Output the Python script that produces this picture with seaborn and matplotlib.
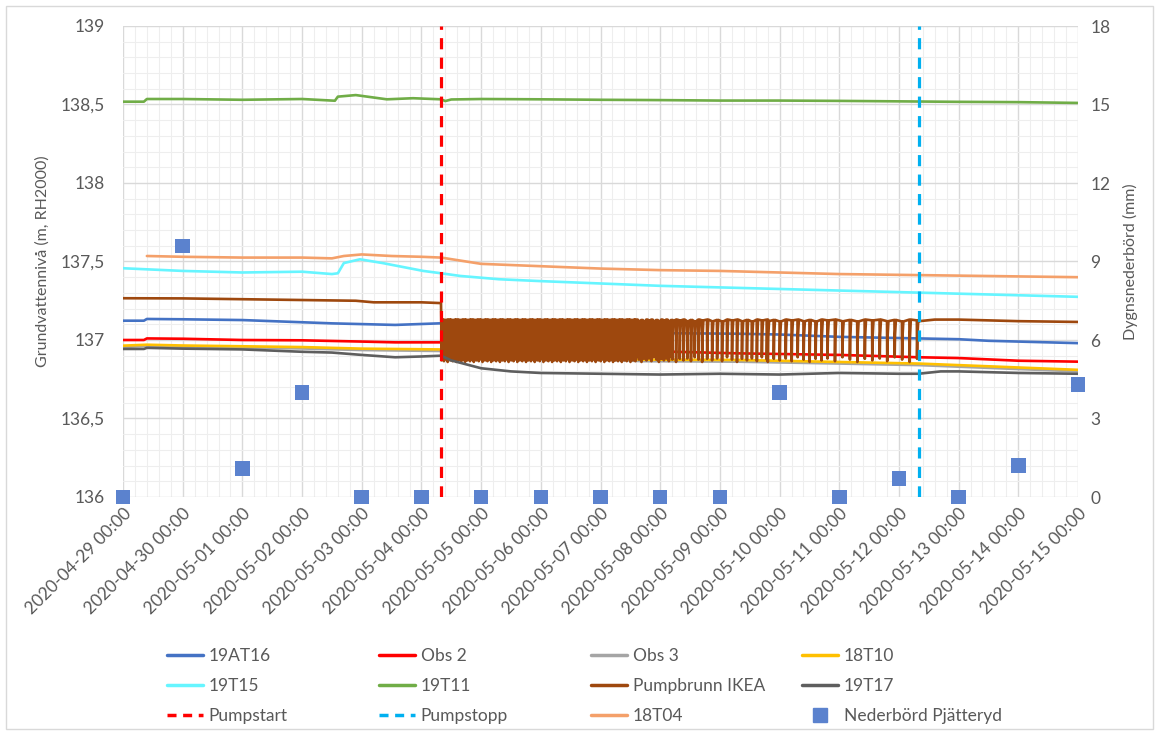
import matplotlib
matplotlib.use("Agg")
import matplotlib.pyplot as plt
import matplotlib.dates as mdates
import matplotlib.ticker as mticker
from matplotlib.lines import Line2D
from matplotlib.patches import Rectangle
import numpy as np
import pandas as pd
import seaborn as sns

START = pd.Timestamp("2020-04-29 00:00")

# day offsets from START and read-off levels (m, RH2000)
t_19at16 = [0, 0.35, 0.4, 1, 2, 3, 3.5, 4.56, 5.3, 6.5, 8.5, 10.3, 11, 12, 13.33, 14, 14.5, 15, 16]
v_19at16 = [137.123, 137.123, 137.134, 137.132, 137.127, 137.113, 137.106, 137.096, 137.106,
            137.08, 137.045, 137.04, 137.035, 137.02, 137.01, 137.005, 136.995, 136.99, 136.98]

t_obs2 = [0, 0.35, 0.4, 1, 2, 3, 4, 4.56, 5.3, 6.5, 8.7, 10.3, 12, 13.33, 14, 15, 16]
v_obs2 = [137.0, 137.0, 137.01, 137.008, 137.0, 136.998, 136.99, 136.985, 136.985,
          136.96, 136.93, 136.915, 136.905, 136.89, 136.885, 136.868, 136.862]

t_obs3 = [0, 0.4, 1, 2, 3, 4, 5.3, 6.5, 8.7, 10.3, 12, 13.33, 14, 15, 16]
v_obs3 = [136.955, 136.962, 136.957, 136.952, 136.946, 136.936, 136.93, 136.9, 136.865,
          136.862, 136.85, 136.84, 136.83, 136.815, 136.80]

t_18t10 = [0, 0.4, 1, 2, 3, 4, 5.3, 6.5, 8.7, 10.3, 12, 13.33, 14, 15, 16]
v_18t10 = [136.964, 136.97, 136.965, 136.96, 136.955, 136.945, 136.94, 136.91, 136.875,
           136.873, 136.86, 136.85, 136.84, 136.825, 136.81]

t_19t15 = [0, 1, 2, 3, 3.5, 3.6, 3.7, 3.97, 4.35, 5.03, 5.33, 5.65, 6.3, 7, 8, 9, 10, 11, 12, 13, 14, 15, 16]
v_19t15 = [137.457, 137.44, 137.43, 137.435, 137.42, 137.425, 137.49, 137.514, 137.49, 137.44,
           137.425, 137.408, 137.387, 137.375, 137.36, 137.345, 137.335, 137.325, 137.315,
           137.305, 137.295, 137.285, 137.275]

t_19t11 = [0, 0.35, 0.4, 1, 2, 3, 3.55, 3.6, 3.9, 4.42, 4.86, 5.33, 5.4, 5.5, 6, 7, 8, 9, 10, 11, 12, 13, 14, 15, 16]
v_19t11 = [138.518, 138.518, 138.535, 138.535, 138.53, 138.535, 138.524, 138.55, 138.56,
           138.533, 138.54, 138.533, 138.522, 138.532, 138.535, 138.533, 138.53, 138.528,
           138.525, 138.525, 138.523, 138.52, 138.517, 138.515, 138.51]

t_19t17 = [0, 0.35, 0.4, 1, 2, 3, 3.5, 4, 4.56, 5, 5.33, 5.5, 6, 6.5, 7, 8, 9, 10, 11, 12, 13, 13.33, 13.7, 14, 15, 16]
v_19t17 = [136.943, 136.943, 136.95, 136.945, 136.94, 136.925, 136.92, 136.905, 136.89, 136.895,
           136.9, 136.87, 136.82, 136.8, 136.79, 136.785, 136.78, 136.785, 136.78, 136.79,
           136.785, 136.785, 136.8, 136.8, 136.79, 136.785]

t_18t04 = [0.4, 1, 2, 3, 3.5, 3.7, 4, 4.5, 5, 5.33, 6, 7, 8, 9, 10, 11, 12, 13, 14, 15, 16]
v_18t04 = [137.535, 137.53, 137.525, 137.525, 137.52, 137.535, 137.545, 137.535, 137.53, 137.525,
           137.485, 137.47, 137.455, 137.445, 137.44, 137.43, 137.42, 137.415, 137.41, 137.405, 137.40]

# pump well: before start, cycling phase, after stop
t_pump_pre = [0, 1, 2, 3, 3.9, 4.2, 5.0, 5.328]
v_pump_pre = [137.266, 137.265, 137.26, 137.255, 137.25, 137.24, 137.24, 137.235]
pump_seg_start = [5.332, 8.6, 9.2, 9.7, 10.8, 11.8]
pump_seg_period_h = [0.5, 1.0, 1.5, 2.0, 2.4, 3.0]
pump_highs = [137.125, 137.13, 137.12, 137.128, 137.118, 137.13]
pump_lows = [136.87, 136.882, 136.865, 136.89, 136.875, 136.86, 136.88]
t_pump_post = [13.34, 13.6, 14, 15, 16]
v_pump_post = [137.12, 137.13, 137.13, 137.12, 137.115]

# start/stop of pumping (days) and daily precipitation
pump_start_day = 5.33
pump_stop_day = 13.33
precip_mm = [0, 9.6, 1.1, 4.0, 0, 0, 0, 0, 0, 0, 0, 4.0, 0, 0.7, 0, 1.2, 4.3]

names = ["19AT16", "Obs 2", "Obs 3", "18T10", "19T15", "19T11", "Pumpbrunn IKEA", "19T17", "18T04"]
colors = {
    "19AT16": "#4472C4", "Obs 2": "#FF0000", "Obs 3": "#A5A5A5", "18T10": "#FFC000",
    "19T15": "#66F5FF", "19T11": "#70AD47", "Pumpbrunn IKEA": "#9E480E", "19T17": "#5E5E5E",
    "18T04": "#F4A06A",
}


def pump_cycles():
    t, v = [], []
    bounds = pump_seg_start + [pump_stop_day]
    k = 0
    for i, period_h in enumerate(pump_seg_period_h):
        p = period_h / 24.0
        t0 = bounds[i]
        while t0 < bounds[i + 1] - 1e-9:
            hi = pump_highs[k % len(pump_highs)]
            lo = pump_lows[k % len(pump_lows)]
            drop = 0.08 / 24
            rec = min(0.5 / 24, 0.75 * p)
            t += [t0, t0 + drop, t0 + drop + 0.3 * rec, t0 + drop + rec]
            v += [hi, lo, lo + 0.6 * (hi - lo), hi]
            t0 += p
            k += 1
    return t, v


series = {
    "19AT16": (t_19at16, v_19at16), "Obs 2": (t_obs2, v_obs2), "Obs 3": (t_obs3, v_obs3),
    "18T10": (t_18t10, v_18t10), "19T15": (t_19t15, v_19t15), "19T11": (t_19t11, v_19t11),
    "19T17": (t_19t17, v_19t17), "18T04": (t_18t04, v_18t04),
}
ct, cv = pump_cycles()
series["Pumpbrunn IKEA"] = (t_pump_pre + ct + t_pump_post, v_pump_pre + cv + v_pump_post)

frames = []
for name in names:
    tt, vv = series[name]
    frames.append(pd.DataFrame({"time": START + pd.to_timedelta(tt, unit="D"), "level": vv, "serie": name}))
df = pd.concat(frames, ignore_index=True)

sns.set_style("white")
plt.rcParams["font.family"] = ["Lato", "DejaVu Sans"]
TXT = "#595959"

fig = plt.figure(figsize=(11.59, 7.35), dpi=100)
ax = fig.add_axes([123 / 1159, 1 - 497 / 735, (1078 - 123) / 1159, (497 - 26) / 735])

sns.lineplot(data=df, x="time", y="level", hue="serie", hue_order=names, palette=colors,
             estimator=None, sort=False, legend=False, linewidth=1.9, ax=ax)

ax.axvline(START + pd.Timedelta(days=pump_start_day), color="#FF0000", lw=2.3, ls=(0, (3.5, 2.6)))
ax.axvline(START + pd.Timedelta(days=pump_stop_day), color="#00B0F0", lw=2.3, ls=(0, (3.5, 2.6)))

ax.set_xlim(START, START + pd.Timedelta(days=16))
ax.set_ylim(136, 139)
ax.xaxis.set_major_locator(mdates.DayLocator())
ax.xaxis.set_major_formatter(mdates.DateFormatter("%Y-%m-%d %H:%M"))
ax.xaxis.set_minor_locator(mticker.MultipleLocator(0.2))
ax.yaxis.set_major_locator(mticker.MultipleLocator(0.5))
ax.yaxis.set_minor_locator(mticker.MultipleLocator(0.1))
ax.yaxis.set_major_formatter(mticker.FuncFormatter(lambda v, p: f"{v:g}".replace(".", ",")))
ax.grid(which="major", color="#D9D9D9", lw=1.0)
ax.grid(which="minor", color="#EEEEEE", lw=0.8)
ax.set_axisbelow(True)
for s in ax.spines.values():
    s.set_visible(False)
ax.tick_params(which="both", length=0, colors=TXT, labelsize=12.5)
ax.tick_params(axis="y", pad=13)
ax.tick_params(axis="x", pad=6)
for lab in ax.get_xticklabels():
    lab.set_rotation(45)
    lab.set_ha("right")
    lab.set_rotation_mode("anchor")
ax.set_xlabel("")
ax.set_ylabel("Grundvattennivå (m, RH2000)", color=TXT, fontsize=11.5, labelpad=8)

ax2 = ax.twinx()
precip_days = START + pd.to_timedelta(np.arange(len(precip_mm)), unit="D")
sns.scatterplot(x=precip_days, y=precip_mm, marker="s", s=110, color="#5B82CE",
                edgecolor="none", clip_on=False, zorder=5, ax=ax2)
ax2.set_ylim(0, 18)
ax2.yaxis.set_major_locator(mticker.MultipleLocator(3))
ax2.grid(False)
for s in ax2.spines.values():
    s.set_visible(False)
ax2.tick_params(length=0, colors=TXT, labelsize=12.5, pad=9)
ax2.set_ylabel("Dygnsnederbörd (mm)", color=TXT, fontsize=11.5, labelpad=9)
ax.set_xlim(START, START + pd.Timedelta(days=16))


def line_handle(c, dashed=False):
    if dashed:
        return Line2D([], [], color=c, lw=2.5, ls=(0, (2.6, 1.9)))
    return Line2D([], [], color=c, lw=2.5)


columns = [
    [("19AT16", line_handle(colors["19AT16"])), ("19T15", line_handle(colors["19T15"])),
     ("Pumpstart", line_handle("#FF0000", True))],
    [("Obs 2", line_handle(colors["Obs 2"])), ("19T11", line_handle(colors["19T11"])),
     ("Pumpstopp", line_handle("#00B0F0", True))],
    [("Obs 3", line_handle(colors["Obs 3"])), ("Pumpbrunn IKEA", line_handle(colors["Pumpbrunn IKEA"])),
     ("18T04", line_handle(colors["18T04"]))],
    [("18T10", line_handle(colors["18T10"])), ("19T17", line_handle(colors["19T17"])),
     ("Nederbörd Pjätteryd", Line2D([], [], ls="none", marker="s", markersize=10, color="#5B82CE"))],
]
col_x = [167, 379, 591, 802]
for x0, col in zip(col_x, columns):
    fig.legend([h for _, h in col], [n for n, _ in col], loc="upper left",
               bbox_to_anchor=(x0 / 1159, 1 - 648 / 735), frameon=False, fontsize=12.5,
               handlelength=2.1, handletextpad=0.3, labelspacing=0.8, borderpad=0,
               borderaxespad=0, labelcolor=TXT)

fig.patches.append(Rectangle((6 / 1159, 6 / 735), 1147 / 1159, 723 / 735, transform=fig.transFigure,
                             fill=False, edgecolor="#D9D9D9", lw=1))

fig.savefig("out.png", dpi=100)
